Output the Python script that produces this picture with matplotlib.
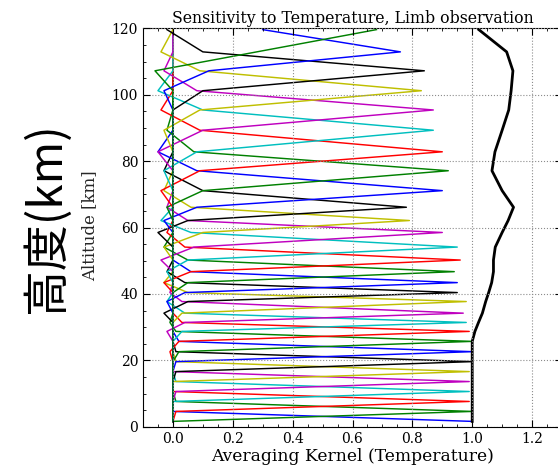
import numpy as np
import matplotlib
matplotlib.use('Agg')
import matplotlib.pyplot as plt

# retrieval levels (km) and the averaging kernel rows read per level
altitude = [1.6, 4.6, 7.6, 10.6, 13.6, 16.6, 19.6, 22.6, 25.7, 28.7,
            31.4, 34.2, 37.7, 40.4, 43.4, 46.7, 50.2, 54.1, 58.5, 62.1,
            66.1, 71.1, 77.1, 82.8, 89.3, 95.4, 101.2, 107.2, 112.9, 119.6]
peak = [1.00, 1.00, 0.99, 0.99, 0.99, 0.99, 1.00, 1.00, 1.00, 0.99,
        0.98, 0.97, 0.98, 0.95, 0.95, 0.94, 0.96, 0.95, 0.90, 0.79,
        0.78, 0.90, 0.92, 0.90, 0.87, 0.87, 0.83, 0.84, 0.76, 0.68]
below1 = [0.00, 0.00, 0.01, 0.00, 0.01, 0.00, 0.01, 0.01, 0.02, 0.02,
          0.03, 0.04, 0.03, 0.05, 0.04, 0.05, 0.06, 0.05, 0.07, 0.10,
          0.05, 0.08, 0.10, 0.09, 0.08, 0.10, 0.09, 0.10, 0.12, 0.28]
above1 = [0.00, 0.01, 0.00, 0.01, 0.00, 0.01, 0.01, 0.02, 0.01, 0.03,
          0.04, 0.03, 0.05, 0.04, 0.06, 0.05, 0.04, 0.06, 0.05, 0.06,
          0.10, 0.08, 0.07, 0.09, 0.10, 0.08, 0.09, 0.10, 0.30, 0.00]
below2 = [0.00, 0.00, 0.00, 0.00, 0.00, 0.00, 0.00, 0.00, 0.00, -0.01,
          0.00, -0.02, 0.00, -0.03, -0.02, 0.00, -0.03, -0.02, -0.04, -0.03,
          -0.05, -0.03, -0.02, -0.04, -0.03, -0.05, -0.03, 0.00, -0.03, -0.06]
above2 = [0.00, 0.00, 0.00, 0.00, 0.00, 0.00, 0.00, 0.00, -0.01, 0.00,
          -0.02, -0.01, -0.03, -0.02, 0.00, -0.03, -0.02, -0.04, -0.02, -0.03,
          -0.03, -0.05, -0.02, -0.04, -0.05, -0.03, -0.04, -0.02, 0.00, 0.00]
# measurement response (sum of kernels)
response = [1.000, 1.000, 1.000, 1.000, 1.000, 1.000, 1.000, 1.000, 1.000, 1.009,
            1.021, 1.034, 1.045, 1.055, 1.065, 1.071, 1.071, 1.077, 1.100, 1.120,
            1.138, 1.100, 1.066, 1.076, 1.100, 1.122, 1.130, 1.136, 1.115, 1.022]

n = len(altitude)
kernel = np.zeros((n, n))
for i in range(n):
    kernel[i, i] = peak[i]
    if i >= 1:
        kernel[i, i - 1] = below1[i]
    if i + 1 < n:
        kernel[i, i + 1] = above1[i]
    if i >= 2:
        kernel[i, i - 2] = below2[i]
    if i + 2 < n:
        kernel[i, i + 2] = above2[i]

serif = 'DejaVu Serif'
fig = plt.figure(figsize=(5.58, 4.71), dpi=100)
ax = fig.add_axes([143 / 558, 44.3 / 471, 419 / 558, 398.4 / 471])

colours = ['b', 'g', 'r', 'c', 'm', 'y', 'k']
for i in range(n):
    ax.plot(kernel[i], altitude, color=colours[i % 7], lw=1.05)
ax.plot(response, altitude, color='k', lw=2)

ax.set_xlim(-0.1, 1.3)
ax.set_ylim(0, 120)
ax.set_xticks(np.arange(0, 1.3, 0.2))
ax.set_yticks(range(0, 121, 20))
ax.minorticks_on()
ax.tick_params(which='both', direction='in', top=True, right=True)
ax.tick_params(which='major', length=5, labelsize=10)
ax.tick_params(which='minor', length=2.5)
for lab in ax.get_xticklabels() + ax.get_yticklabels():
    lab.set_family(serif)
ax.grid(True, which='major', linestyle=':', color='0.55', linewidth=0.8)
ax.set_axisbelow(False)

ax.set_title('Sensitivity to Temperature, Limb observation', fontsize=11.3,
             family=serif, pad=4)
ax.set_xlabel('Averaging Kernel (Temperature)', fontsize=12.3, family=serif,
              labelpad=2)
fig.text(90 / 558, 1 - 226 / 471, 'Altitude [km]', rotation=90, fontsize=12,
         family=serif, ha='center', va='center', color='0.15')
fig.text(47 / 558, 1 - 218 / 471, '高度(km)', rotation=90, fontsize=33,
         family=['Noto Sans CJK JP', 'DejaVu Sans'], ha='center', va='center')

fig.savefig('out.png', dpi=100)
